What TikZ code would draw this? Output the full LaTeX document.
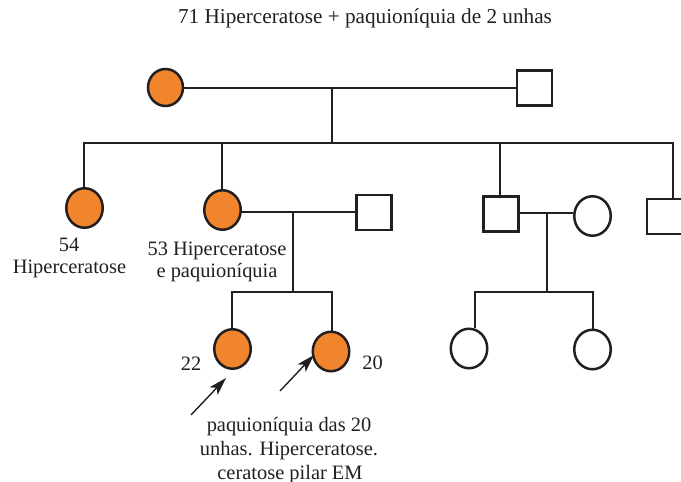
\documentclass[tikz,border=0pt]{standalone}
\usepackage{fontspec}
\setmainfont{Liberation Serif}
\usetikzlibrary{arrows.meta,shapes.geometric}
\definecolor{ink}{RGB}{35,31,32}
\definecolor{orng}{RGB}{240,133,45}
\begin{document}
\begin{tikzpicture}[x=1bp,y=-1bp,
  line/.style={draw=ink,line width=2.3bp},
  fem/.style={ellipse,draw=ink,line width=2.5bp,minimum width=36.5bp,minimum height=39.5bp,inner sep=0pt},
  aff/.style={fem,fill=orng},
  mal/.style={rectangle,draw=ink,line width=2.5bp,minimum width=35bp,minimum height=35bp,inner sep=0pt},
  lbl/.style={text=ink,font=\fontsize{20.5}{24}\selectfont,anchor=base,inner sep=0pt},
  arr/.style={draw=ink,line width=1.4bp,-{Stealth[length=18bp,width=11bp,inset=4.5bp]}}]
\useasboundingbox (0,0) rectangle (681,482);

% title
\node[lbl,font=\fontsize{21.3}{25}\selectfont] (title) at (365,24) {71 Hiperceratose + paquioníquia de 2 unhas};

% generation I
\node[aff,minimum width=35bp,minimum height=37bp] (f1) at (165.5,87.5) {};
\node[mal] (m1) at (534.5,88) {};
\coordinate (u1) at (332,88);
\coordinate (s1) at (332,143);
\draw[line] (f1.east |- u1) -- (u1 -| m1.west);
\draw[line] (u1) -- (s1);

% generation II
\node[aff] (c1) at (84.5,208) {};
\node[aff] (c2) at (222.5,210) {};
\node[mal] (m2a) at (374,212.5) {};
\node[mal] (m2) at (501,214) {};
\node[fem] (f2) at (592.5,216) {};
\node[mal] (m3) at (664.5,216.5) {};

\coordinate (sL) at (84,143);
\coordinate (sR) at (673,143);
\coordinate (d2) at (222,143);
\coordinate (d3) at (500,143);
\draw[line] (sL |- c1.north) -- (sL) -- (sR) -- (sR |- m3.north);
\draw[line] (d2) -- (d2 |- c2.north);
\draw[line] (d3) -- (d3 |- m2.north);

% couple c2 x m2a
\coordinate (u2) at (293,212);
\coordinate (s2) at (293,292);
\draw[line] (c2.east |- u2) -- (u2 -| m2a.west);
\draw[line] (u2) -- (s2);

% couple m2 x f2
\coordinate (u3) at (547,213);
\coordinate (s3) at (547,292);
\draw[line] (m2.east |- u3) -- (u3 -| f2.west);
\draw[line] (u3) -- (s3);

% generation III
\node[aff] (g1) at (232.5,349) {};
\node[aff] (g2) at (331,351.5) {};
\node[fem] (g3) at (469,348.5) {};
\node[fem] (g4) at (592.5,349.5) {};

\coordinate (k1) at (232,292);
\coordinate (k2) at (332,292);
\coordinate (k3) at (475,292);
\coordinate (k4) at (593,292);
\draw[line] (k1 |- g1.north) -- (k1) -- (k2) -- (k2 |- g2.north);
\draw[line] (k3 |- g3.north) -- (k3) -- (k4) -- (k4 |- g4.north);

% labels
\node[lbl] (l54) at (69,252) {54};
\node[lbl] (l54b) at (69.5,273) {Hiperceratose};
\node[lbl] (l53) at (217,256) {53 Hiperceratose};
\node[lbl] (l53b) at (217,277) {e paquioníquia};
\node[lbl] (l22) at (191,370.5) {22};
\node[lbl] (l20) at (372.5,369) {20};
\node[lbl] (n1) at (289,431.5) {paquioníquia das 20};
\node[lbl] (n2) at (289,455.5) {unhas. Hiperceratose.};
\node[lbl] (n3) at (290,479) {ceratose pilar EM};

% arrows
\coordinate (a1t) at (191,415);
\coordinate (a1h) at (226,378);
\coordinate (a2t) at (280,391);
\coordinate (a2h) at (314,355);
\draw[arr] (a1t) -- (a1h);
\draw[arr] (a2t) -- (a2h);
\end{tikzpicture}
\end{document}
